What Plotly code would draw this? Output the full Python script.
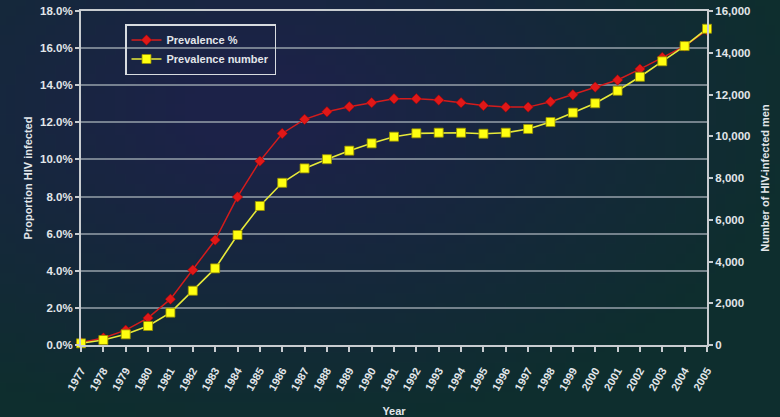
import base64
import struct
import zlib

import plotly.graph_objects as go

# Data
years = [1977, 1978, 1979, 1980, 1981, 1982, 1983, 1984, 1985, 1986,
         1987, 1988, 1989, 1990, 1991, 1992, 1993, 1994, 1995, 1996,
         1997, 1998, 1999, 2000, 2001, 2002, 2003, 2004, 2005]
prevalence_pct = [0.13, 0.38, 0.80, 1.46, 2.47, 4.04, 5.66, 7.98, 9.91, 11.40,
                  12.16, 12.57, 12.84, 13.06, 13.27, 13.27, 13.20, 13.06, 12.91, 12.82,
                  12.82, 13.11, 13.49, 13.90, 14.28, 14.87, 15.50, 16.11, 16.97]
prevalence_number = [80, 240, 510, 910, 1550, 2600, 3670, 5270, 6660, 7770,
                     8460, 8900, 9310, 9660, 9980, 10140, 10170, 10170, 10120, 10170,
                     10350, 10680, 11130, 11580, 12180, 12850, 13590, 14320, 15150]
left_ticks = [0, 2, 4, 6, 8, 10, 12, 14, 16, 18]
right_ticks = [0, 2000, 4000, 6000, 8000, 10000, 12000, 14000, 16000]

W, H = 780, 417
M_L, M_R, M_T, M_B = 81, 73, 11, 72
TEXT = "#e2e6ea"
AXIS = "#c8ccd0"
FONT = "Liberation Sans, Arial, sans-serif"


def gradient_png(w, h):
    """Small navy-to-teal backdrop, stretched over the whole page."""
    navy = (28, 34, 72)
    teal = (14, 46, 46)
    rows = b""
    for j in range(h):
        row = b"\x00"
        for i in range(w):
            x = (i + 0.5) / w * W
            y = (j + 0.5) / h * H
            d = (((x - 260) / 470) ** 2 + ((y - 110) / 280) ** 2) ** 0.5
            t = max(0.0, min(1.0, 1.15 - d))
            c = [round(teal[k] + (navy[k] - teal[k]) * t) for k in range(3)]
            row += bytes(c)
        rows += row

    def chunk(tag, data):
        body = tag + data
        return struct.pack(">I", len(data)) + body + struct.pack(">I", zlib.crc32(body) & 0xFFFFFFFF)

    png = b"\x89PNG\r\n\x1a\n"
    png += chunk(b"IHDR", struct.pack(">IIBBBBB", w, h, 8, 2, 0, 0, 0))
    png += chunk(b"IDAT", zlib.compress(rows, 9))
    png += chunk(b"IEND", b"")
    return "data:image/png;base64," + base64.b64encode(png).decode()


pw, ph = W - M_L - M_R, H - M_T - M_B

fig = go.Figure()
fig.add_trace(go.Scatter(
    x=years, y=prevalence_pct, name="Prevalence %", mode="lines+markers",
    line=dict(color="#d41c1c", width=1.5),
    marker=dict(symbol="diamond", size=8, color="#e01818", line=dict(color="#a00000", width=0.5)),
    cliponaxis=False, yaxis="y",
))
fig.add_trace(go.Scatter(
    x=years, y=prevalence_number, name="Prevalence number", mode="lines+markers",
    line=dict(color="#e8ea3a", width=1.6),
    marker=dict(symbol="square", size=9, color="#ffff10", line=dict(color="#9a9200", width=0.8)),
    cliponaxis=False, yaxis="y2",
))

fig.update_layout(
    width=W, height=H,
    margin=dict(l=M_L, r=M_R, t=M_T, b=M_B, pad=0, autoexpand=False),
    paper_bgcolor="#0f2e2e",
    plot_bgcolor="rgba(0,0,0,0)",
    font=dict(family=FONT, color=TEXT, size=11, weight="bold"),
    showlegend=True,
    legend=dict(
        x=(125 - M_L) / pw, y=1 - (24 - M_T) / ph, xanchor="left", yanchor="top",
        bgcolor="rgba(0,0,0,0)", bordercolor="#d8dce0", borderwidth=1.5,
        font=dict(size=11, color=TEXT, weight="bold"),
        tracegroupgap=0, itemwidth=30,
    ),
    images=[dict(
        source=gradient_png(78, 42), xref="paper", yref="paper",
        x=-M_L / pw, y=1 + M_T / ph, sizex=W / pw, sizey=H / ph,
        xanchor="left", yanchor="top", sizing="stretch", layer="below",
    )],
    xaxis=dict(
        range=[1977, 2005], tickmode="array", tickvals=years,
        ticktext=[str(v) for v in years], tickangle=-60,
        ticks="outside", ticklen=5, tickwidth=1.5, tickcolor=AXIS,
        ticklabelstandoff=8, automargin=False,
        showline=True, linecolor=AXIS, linewidth=2, mirror=True,
        showgrid=False, zeroline=False,
        tickfont=dict(size=11, color=TEXT, weight="bold"),
        title=dict(text="Year", font=dict(size=11, color=TEXT, weight="bold"), standoff=16),
    ),
    yaxis=dict(
        range=[0, 18], tickmode="array", tickvals=left_ticks,
        ticktext=[f"{v:.1f}%" for v in left_ticks],
        ticks="outside", ticklen=4, tickwidth=1.5, tickcolor=AXIS,
        automargin=False,
        showline=True, linecolor=AXIS, linewidth=2,
        showgrid=True, gridcolor="rgba(150,160,170,0.75)", gridwidth=1.5,
        zeroline=False,
        tickfont=dict(size=11.5, color=TEXT, weight="bold"),
        title=dict(text="Proportion HIV infected", font=dict(size=11, color=TEXT, weight="bold"), standoff=5),
    ),
    yaxis2=dict(
        range=[0, 16000], overlaying="y", side="right", tickmode="array",
        tickvals=right_ticks, ticktext=[f"{v:,}" for v in right_ticks],
        ticks="outside", ticklen=4, tickwidth=1.5, tickcolor=AXIS,
        automargin=False,
        showline=True, linecolor=AXIS, linewidth=2,
        showgrid=False, zeroline=False,
        tickfont=dict(size=11.5, color=TEXT, weight="bold"),
        title=dict(text="Number of HIV-infected men", font=dict(size=11, color=TEXT, weight="bold"), standoff=12),
    ),
)

fig.write_html("out.html")
